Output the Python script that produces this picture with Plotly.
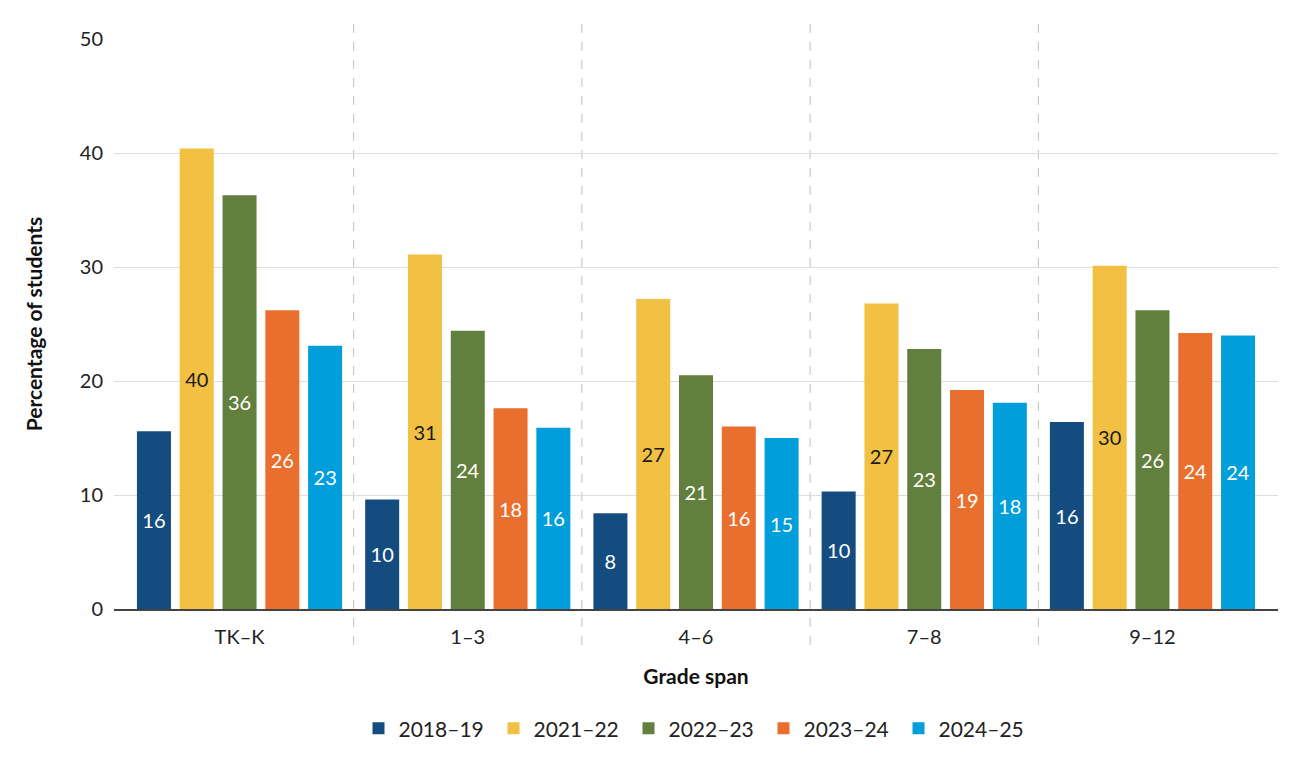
import plotly.graph_objects as go

categories = ["TK–K", "1–3", "4–6", "7–8", "9–12"]
series_names = ["2018–19", "2021–22", "2022–23", "2023–24", "2024–25"]
v2018 = [15.6, 9.6, 8.4, 10.3, 16.4]
v2021 = [40.4, 31.1, 27.2, 26.8, 30.1]
v2022 = [36.3, 24.4, 20.5, 22.8, 26.2]
v2023 = [26.2, 17.6, 16.0, 19.2, 24.2]
v2024 = [23.1, 15.9, 15.0, 18.1, 24.0]
series_values = [v2018, v2021, v2022, v2023, v2024]
colors = ["#154c80", "#f2c043", "#627f3e", "#e96f2e", "#009fdb"]
text_colors = ["white", "#1a1a1a", "white", "white", "white"]

FONT = "Lato"

fig = go.Figure()
for name, vals, c, tc in zip(series_names, series_values, colors, text_colors):
    fig.add_trace(go.Bar(
        x=categories, y=vals, name=name,
        marker=dict(color=c, line=dict(width=0)),
        texttemplate="%{y:.0f}", textposition="inside",
        insidetextanchor="middle", textangle=0,
        textfont=dict(family=FONT, size=20, color=tc),
        hoverinfo="skip",
    ))

for xv in [0.5, 1.5, 2.5, 3.5]:
    fig.add_shape(type="line", xref="x", yref="paper", x0=xv, x1=xv,
                  y0=-0.063, y1=1.042,
                  line=dict(color="#c0c0c0", width=1, dash="dash"), layer="below")

fig.update_layout(
    width=1300, height=764,
    margin=dict(l=114, r=22, t=39, b=155),
    plot_bgcolor="white", paper_bgcolor="white",
    barmode="group", bargap=0.0625, bargroupgap=0.205,
    font=dict(family=FONT, size=20, color="#222222"),
    showlegend=True,
    legend=dict(orientation="h", x=0.5, xanchor="center", y=-0.21, yanchor="middle",
                font=dict(family=FONT, size=21, color="#222222"),
                itemwidth=30, traceorder="normal",
                entrywidth=90, entrywidthmode="pixels"),
    xaxis=dict(
        range=[-0.55, 4.55], showgrid=False, showline=True, linecolor="#444444",
        linewidth=1.5, ticks="", tickfont=dict(family=FONT, size=20, color="#222222"),
        ticklabelstandoff=9,
        title=dict(text="<b>Grade span</b>", font=dict(family=FONT, size=21, color="#111111"),
                   standoff=23),
    ),
    yaxis=dict(
        range=[0, 50], dtick=10, showgrid=True, gridcolor="#dddddd", gridwidth=1,
        zeroline=False, ticks="", tickfont=dict(family=FONT, size=20, color="#222222"),
        ticklabelstandoff=10,
        title=dict(text="<b>Percentage of students</b>",
                   font=dict(family=FONT, size=21, color="#111111"), standoff=31),
    ),
)

fig.write_html("out.html")
